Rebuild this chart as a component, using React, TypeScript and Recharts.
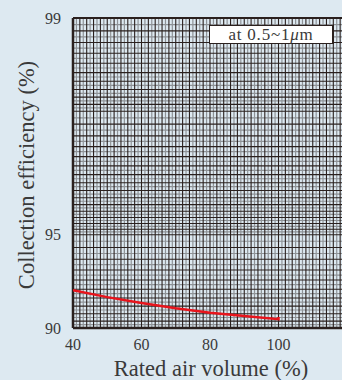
import { LineChart, Line, XAxis, YAxis, ReferenceLine } from 'recharts';

// (efficiency % against rated air volume %)
const airVolume = [40, 50, 60, 70, 80, 90, 100, 100];
const efficiency = [92.45, 92.05, 91.7, 91.36, 91.07, 90.85, 90.63, 90.78];

const xTicks = [40, 60, 80, 100];
const yTickLabels = [99, 95, 90];

const data = airVolume.map((v, i) => ({ volume: v, eff: efficiency[i] }));

// probability-paper style: the axis is log10(100 - efficiency)
const toLoss = (eff: number) => Math.round((100 - eff) * 1000) / 1000;

const range = (from: number, to: number, step: number) => {
  const out: number[] = [];
  const n = Math.round((to - from) / step);
  for (let i = 0; i <= n; i++) out.push(Math.round((from + i * step) * 1000) / 1000);
  return out;
};

const vDark = range(42, 120, 2);
const vLight = range(41, 119, 2);
const hDark = [...range(90.5, 94.5, 0.5), ...range(95, 97.8, 0.2), ...range(98, 98.9, 0.1)];
const hLight = [...range(90.25, 94.75, 0.5), ...range(95.1, 97.9, 0.2), ...range(98.05, 98.95, 0.1)];

const DARK = '#2a201e';
const LIGHT = '#8e9296';
const TEXT = '#3a3a3a';
const FONT = '"Liberation Serif", "DejaVu Serif", serif';

const XTitle = () => (
  <text x={211} y={376} textAnchor="middle" fill={TEXT} fontSize={22.5} fontFamily={FONT}>
    Rated air volume (%)
  </text>
);

const YTitle = () => (
  <text
    x={26}
    y={175}
    transform="rotate(-90, 26, 175)"
    textAnchor="middle"
    dominantBaseline="central"
    fill={TEXT}
    fontSize={22.5}
    fontFamily={FONT}
  >
    Collection efficiency (%)
  </text>
);

export default function App() {
  return (
    <div style={{ position: 'absolute', left: 0, top: 0, width: 342, height: 380, overflow: 'hidden', background: '#dde9f1', fontFamily: FONT }}>
      <LineChart width={350} height={380} data={data} margin={{ top: 18, right: 3, bottom: 0, left: 0 }}>
        <XAxis
          dataKey="volume"
          type="number"
          domain={[40, 120]}
          ticks={xTicks}
          allowDataOverflow
          axisLine={false}
          tickLine={false}
          tickSize={0}
          tickMargin={11}
          height={52}
          tick={{ fill: TEXT, fontSize: 16, fontFamily: FONT }}
          label={<XTitle />}
        />
        <YAxis
          type="number"
          scale="log"
          domain={[1, 10]}
          reversed
          allowDataOverflow
          ticks={yTickLabels.map(toLoss)}
          tickFormatter={(v: number) => String(Math.round(100 - v))}
          axisLine={false}
          tickLine={false}
          tickSize={0}
          tickMargin={12}
          width={73}
          tick={{ fill: TEXT, fontSize: 16, fontFamily: FONT }}
          label={<YTitle />}
        />
        {vLight.map((v) => (
          <ReferenceLine key={`vl${v}`} x={v} stroke={LIGHT} strokeWidth={1.2} />
        ))}
        {hLight.map((v) => (
          <ReferenceLine key={`hl${v}`} y={toLoss(v)} stroke={LIGHT} strokeWidth={1.2} />
        ))}
        {vDark.map((v) => (
          <ReferenceLine key={`vd${v}`} x={v} stroke={DARK} strokeWidth={1.1} />
        ))}
        {hDark.map((v) => (
          <ReferenceLine key={`hd${v}`} y={toLoss(v)} stroke={DARK} strokeWidth={1.1} />
        ))}
        <ReferenceLine x={40} stroke={DARK} strokeWidth={2.5} />
        <ReferenceLine y={toLoss(99)} stroke={DARK} strokeWidth={2} />
        <ReferenceLine y={toLoss(90)} stroke={DARK} strokeWidth={2.5} />
        <Line
          dataKey={(d: { eff: number }) => toLoss(d.eff)}
          type="linear"
          stroke="#e8141c"
          strokeWidth={2.5}
          dot={false}
          isAnimationActive={false}
        />
      </LineChart>
      <div
        style={{
          position: 'absolute',
          left: 209,
          top: 25,
          width: 122,
          height: 17,
          background: '#ffffff',
          border: `1.5px solid ${DARK}`,
          borderRightWidth: 2.5,
          color: TEXT,
          fontSize: 17,
          letterSpacing: 0.8,
          lineHeight: '17px',
          textAlign: 'center',
        }}
      >
        at 0.5~1<i>μ</i>m
      </div>
    </div>
  );
}
